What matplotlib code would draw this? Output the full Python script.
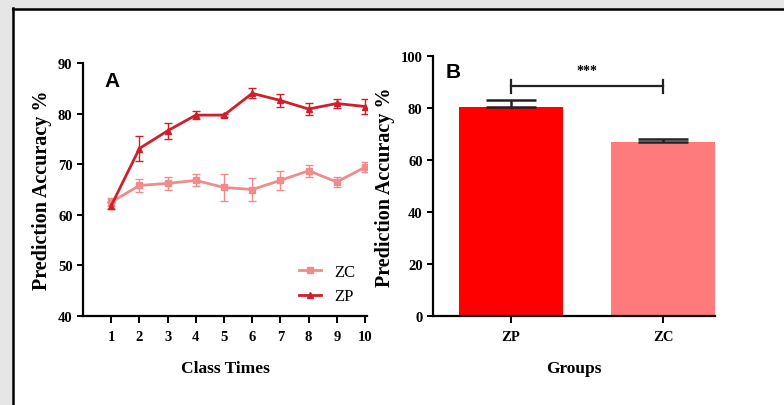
import matplotlib
matplotlib.use("Agg")
import matplotlib.pyplot as plt
from matplotlib.patches import Rectangle
from matplotlib.lines import Line2D

# panel A: prediction accuracy per class time
class_times = [1, 2, 3, 4, 5, 6, 7, 8, 9, 10]
zc_mean = [62.5, 65.8, 66.2, 66.8, 65.4, 65.0, 66.8, 68.7, 66.5, 69.4]
zc_err = [0.8, 1.2, 1.3, 1.2, 2.7, 2.2, 1.9, 1.2, 1.0, 1.0]
zp_mean = [61.8, 73.1, 76.6, 79.7, 79.7, 84.0, 82.6, 80.9, 82.0, 81.4]
zp_err = [0.7, 2.4, 1.6, 0.8, 0.3, 1.0, 1.2, 1.2, 0.9, 1.4]

# panel B: group means
groups = ["ZP", "ZC"]
group_mean = [80.3, 67.0]
group_err = [2.6, 1.0]
sig_label = "***"

serif = "Liberation Serif"
sans = "Liberation Sans"
c_zp = "#cf1f2c"
c_zc = "#f08c8c"

fig = plt.figure(figsize=(7.84, 4.06), dpi=100)
fig.patch.set_facecolor("white")

# grey page strips and black frame edge from the screenshot
W, H = 784.0, 406.0
fig.patches.append(Rectangle((0, 0), 12 / W, 1, transform=fig.transFigure, color="#e6e6e6", zorder=0))
fig.patches.append(Rectangle((0, 1 - 9 / H), 1, 9 / H, transform=fig.transFigure, color="#e6e6e6", zorder=0))
fig.lines.append(Line2D([12.5 / W, 12.5 / W], [0, 1 - 9 / H], transform=fig.transFigure, color="black", lw=1.8))
fig.lines.append(Line2D([12.5 / W, 1], [1 - 10 / H, 1 - 10 / H], transform=fig.transFigure, color="black", lw=1.8))


def style_axes(ax):
	for side in ["top", "right"]:
		ax.spines[side].set_visible(False)
	for side in ["left", "bottom"]:
		ax.spines[side].set_linewidth(1.6)
	ax.tick_params(direction="out", length=4, width=1.4)
	ax.tick_params(axis="x", length=5, pad=5)
	for lab in ax.get_xticklabels() + ax.get_yticklabels():
		lab.set_fontfamily(serif)
		lab.set_fontweight("bold")
		lab.set_fontsize(10.5)


def y_label(ax):
	ax.set_ylabel("Prediction Accuracy %", fontfamily=serif, fontweight="bold",
		fontsize=14.5, labelpad=4)


# ---- panel A
axA = fig.add_axes([83 / W, 1 - 317 / H, 284 / W, 253 / H])
axA.errorbar(class_times, zc_mean, yerr=zc_err, color=c_zc, marker="s", markersize=5,
	lw=2, capsize=3, elinewidth=1, label="ZC")
axA.errorbar(class_times, zp_mean, yerr=zp_err, color=c_zp, marker="^", markersize=5,
	lw=2, capsize=3, elinewidth=1, label="ZP")
axA.set_xlim(0, 10.07)
axA.set_ylim(40, 90)
axA.set_xticks(class_times)
axA.set_yticks([40, 50, 60, 70, 80, 90])
style_axes(axA)
axA.set_xlabel("Class Times", fontfamily=serif, fontweight="bold", fontsize=12.5, labelpad=12)
y_label(axA)
axA.text(0.075, 0.97, "A", transform=axA.transAxes, fontfamily=sans, fontweight="bold",
	fontsize=15, va="top")
handles, labels = axA.get_legend_handles_labels()
handles = [h[0] for h in handles]
axA.legend(handles, labels, loc="lower right", frameon=False, handlelength=1.3,
	prop={"family": serif, "size": 12}, borderaxespad=0.3, labelspacing=0.5)

# ---- panel B
axB = fig.add_axes([433 / W, 1 - 317 / H, 282 / W, 260 / H])
xpos = list(range(len(groups)))
axB.bar(xpos, group_mean, width=0.68, color=["#ff0000", "#ff7b7b"], zorder=2)
axB.errorbar(xpos, group_mean, yerr=[[0, 0], group_err], fmt="none", ecolor="#222222",
	elinewidth=1.8, capsize=18, capthick=1.8, zorder=3)
axB.set_xlim(-0.51, 1.34)
axB.set_ylim(0, 100)
axB.set_xticks(xpos)
axB.set_xticklabels(groups)
axB.set_yticks([0, 20, 40, 60, 80, 100])
style_axes(axB)
axB.set_xlabel("Groups", fontfamily=serif, fontweight="bold", fontsize=12.5, labelpad=12)
y_label(axB)
axB.text(0.045, 0.975, "B", transform=axB.transAxes, fontfamily=sans, fontweight="bold",
	fontsize=15, va="top")

# significance bracket
yb = 88.6
axB.plot([xpos[0], xpos[1]], [yb, yb], color="#222222", lw=1.6, clip_on=False)
for x in xpos:
	axB.plot([x, x], [yb - 2.8, yb + 2.2], color="#222222", lw=1.6, clip_on=False)
axB.text(sum(xpos) / 2, yb + 3.2, sig_label, ha="center", va="bottom", fontsize=10,
	fontweight="bold", fontfamily=serif)

fig.savefig("out.png", dpi=100)
